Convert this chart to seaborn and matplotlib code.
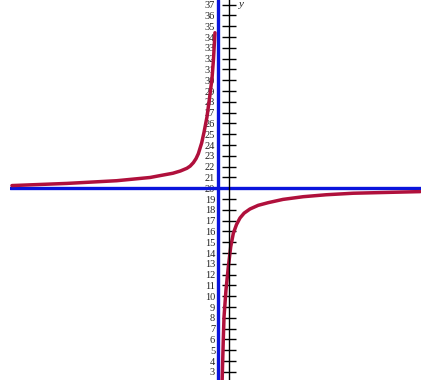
import matplotlib.pyplot as plt
import seaborn as sns

# hyperbola, two branches either side of x = -1
left_x = [-20.1, -15.0, -10.4, -7.3, -6.4, -5.2, -4.5, -3.9, -3.6, -3.3, -3.05, -2.84, -2.53, -2.31,
          -2.04, -1.81, -1.57, -1.44, -1.30]
left_y = [20.25, 20.45, 20.7, 21.0, 21.17, 21.39, 21.6, 21.85, 22.05, 22.37, 22.75, 23.2, 24.2, 25.2,
          26.6, 28.3, 30.2, 31.9, 34.4]

right_x = [-0.64, -0.53, -0.46, -0.28, -0.06, 0.16, 0.40, 0.7, 1.02, 1.4, 1.94, 2.7, 3.64, 5.0, 6.88,
           9.0, 11.5, 15.2, 17.7]
right_y = [2.0, 5.96, 8.11, 10.58, 12.74, 14.59, 15.83, 16.65, 17.25, 17.7, 18.08, 18.42, 18.67, 18.97,
           19.22, 19.4, 19.54, 19.63, 19.69]

asym_x = -1
asym_y = 20
y_ticks = list(range(3, 38))

sns.set_style('white')
plt.rcParams['font.family'] = ['Liberation Serif', 'DejaVu Serif']

fig = plt.figure(figsize=(4.21, 3.80), dpi=100)
ax = fig.add_axes([10 / 421, 0, 411 / 421, 1])

ax.axhline(asym_y, color='#0a14dc', lw=2.4, zorder=1)
ax.axvline(asym_x, color='#0a14dc', lw=2.4, zorder=1)

for xs, ys in [(left_x, left_y), (right_x, right_y)]:
    sns.lineplot(x=xs, y=ys, color='#b0103c', lw=2.5, ax=ax, sort=False, estimator=None,
                 solid_joinstyle='round', solid_capstyle='round')

ax.set_xlim(-20.28, 17.78)
ax.set_ylim(2.25, 37.43)

for side in ['top', 'right', 'bottom']:
    ax.spines[side].set_visible(False)
ax.spines['left'].set_position(('data', 0))
ax.spines['left'].set_color('black')
ax.spines['left'].set_linewidth(1)

ax.set_xticks([])
ax.set_yticks(y_ticks)
ax.tick_params(axis='y', left=True, direction='inout', length=10, width=1, labelsize=7.5, pad=5,
               colors='black', labelcolor='#222222')

ax.text(0.9, 37.0, 'y', style='italic', fontsize=8, va='center')

fig.savefig('out.png', dpi=100)
